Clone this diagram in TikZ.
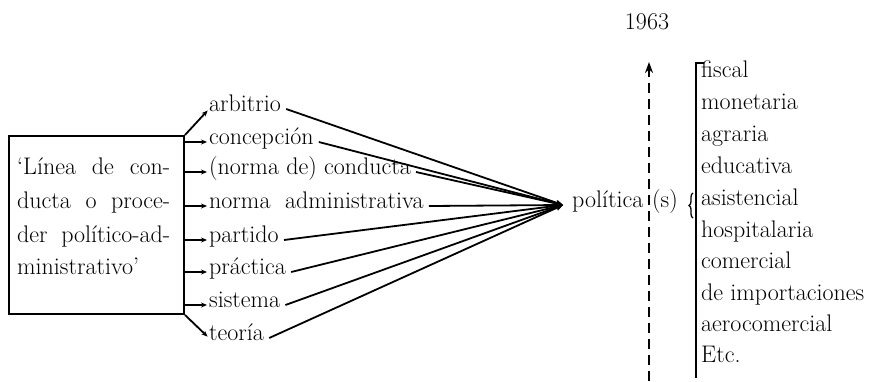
\documentclass[tikz,border=0pt]{standalone}
\usetikzlibrary{arrows.meta,decorations.pathreplacing}
\begin{document}
\begin{tikzpicture}[x=1pt,y=-1pt,
  lbl/.style={anchor=mid west, inner sep=0pt, font=\fontsize{24}{28}\selectfont},
  conn/.style={line width=1.8pt},
  tip/.style={-{Stealth[length=7pt,width=6pt]}},
  smalltip/.style={-{Stealth[length=6pt,width=5pt]}},
  ]
\useasboundingbox (0,0) rectangle (885,381);
% box
\node[draw, line width=2pt, minimum width=175pt, minimum height=178pt, anchor=north west, inner sep=0pt] (box) at (8,135) {};
\node[lbl] (b1) at (17,172) {\makebox[153pt][s]{‘Línea de con-}};
\node[lbl] (b2) at (17,206) {\makebox[153pt][s]{ducta o proce-}};
\node[lbl] (b3) at (17,240) {\makebox[153pt][s]{der político-ad-}};
\node[lbl] (b4) at (17,272) {ministrativo’};
% items
\node[lbl] (i1) at (209,109) {arbitrio};
\node[lbl] (i2) at (209,142) {concepción};
\node[lbl] (i3) at (209,172) {(norma de) conducta};
\node[lbl] (i4) at (209,206) {norma\ \ administrativa};
\node[lbl] (i5) at (209,240) {partido};
\node[lbl] (i6) at (209,272) {práctica};
\node[lbl] (i7) at (209,305) {sistema};
\node[lbl] (i8) at (209,338) {teoría};
% arrows from box
\draw[conn,smalltip,shorten >=2pt] (box.north east) -- (i1.mid west);
\foreach \k in {2,...,7} \draw[conn,smalltip,shorten >=2pt] (box.east |- i\k.mid west) -- (i\k.mid west);
\draw[conn,smalltip,shorten >=2pt] (box.south east) -- (i8.mid west);
% convergence
\coordinate (cv) at (563,205);
\foreach \k in {1,...,8} \draw[conn,tip] ([xshift=5pt]i\k.mid east) -- (cv);
\node[lbl] (pol) at (572,205) {política};
\node[lbl] (s) at (652,205) {(s)};
% timeline
\node[inner sep=0pt, font=\fontsize{24}{28}\selectfont] (yr) at (647,22) {1963};
\coordinate (dtop) at (649,62);
\coordinate (dbot) at (649,381);
\draw[line width=2pt, dash pattern=on 10pt off 6pt, -{Stealth[length=11pt,width=8pt]}] (dbot) -- (dtop);
% brace and bracket
\draw[line width=1.3pt, decorate, decoration={brace, amplitude=4pt}] (693,218) -- (693,193);
\draw[line width=2pt] (704,63) -- (696,63) -- (696,378);
% list
\node[lbl] (l1) at (701,75) {fiscal};
\node[lbl] (l2) at (701,107) {monetaria};
\node[lbl] (l3) at (701,139) {agraria};
\node[lbl] (l4) at (701,171) {educativa};
\node[lbl] (l5) at (701,203) {asistencial};
\node[lbl] (l6) at (701,235) {hospitalaria};
\node[lbl] (l7) at (701,266) {comercial};
\node[lbl] (l8) at (701,298) {de importaciones};
\node[lbl] (l9) at (701,329) {aerocomercial};
\node[lbl] (l10) at (701,360) {Etc.};
\end{tikzpicture}
\end{document}
